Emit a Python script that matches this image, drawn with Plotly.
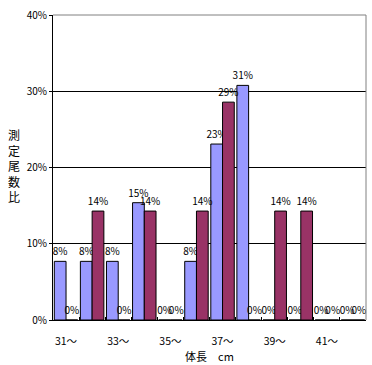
import plotly.graph_objects as go

categories = ["31～", "32～", "33～", "34～", "35～", "36～", "37～", "38～", "39～", "40～", "41～", "42～"]
series_a = [1/13, 1/13, 1/13, 2/13, 0, 1/13, 3/13, 4/13, 0, 0, 0, 0]
series_b = [0, 1/7, 0, 1/7, 0, 1/7, 2/7, 0, 1/7, 1/7, 0, 0]
y_ticks = [0, 0.1, 0.2, 0.3, 0.4]
y_title = "測定尾数比"
x_title = "体長\u3000cm"

FONT = "Noto Sans CJK JP"

fig = go.Figure()
for vals, color, name in [(series_a, "#9999FF", "A"), (series_b, "#993366", "B")]:
    fig.add_trace(go.Bar(
        x=categories, y=vals, name=name,
        marker=dict(color=color, line=dict(color="black", width=1)),
        texttemplate="%{y:.0%}", textposition="outside",
        constraintext="none", cliponaxis=False,
        textfont=dict(family=FONT, size=10, color="black"),
    ))

fig.update_layout(
    width=372, height=365,
    margin=dict(l=53, r=6, t=15, b=45),
    paper_bgcolor="white", plot_bgcolor="white",
    barmode="group", bargap=0.1, bargroupgap=0,
    showlegend=False,
    font=dict(family=FONT, size=10, color="black"),
    xaxis=dict(
        type="category",
        tickmode="array", tickvals=categories,
        ticktext=[c if i % 2 == 0 else "" for i, c in enumerate(categories)],
        tickangle=0, ticklabelstandoff=11,
        tickson="boundaries", ticks="inside", ticklen=3, tickcolor="black",
        showline=True, linecolor="black", linewidth=1,
        showgrid=False,
        title=dict(text=x_title, font=dict(family=FONT, size=11), standoff=0),
        tickfont=dict(family=FONT, size=10.5),
    ),
    yaxis=dict(
        range=[0, 0.4], tickmode="array", tickvals=y_ticks, tickformat=".0%",
        ticks="outside", ticklen=3, tickcolor="black",
        showline=True, linecolor="black", linewidth=1,
        showgrid=True, gridcolor="black", gridwidth=1,
        zeroline=False,
        tickfont=dict(family=FONT, size=10),
    ),
    shapes=[
        dict(type="line", xref="paper", yref="paper", x0=0, x1=1, y0=1, y1=1,
             line=dict(color="#808080", width=1), layer="above"),
        dict(type="line", xref="paper", yref="paper", x0=1, x1=1, y0=0, y1=1,
             line=dict(color="#808080", width=1), layer="above"),
    ],
    annotations=[
        dict(text="<br>".join(list(y_title)), xref="paper", yref="paper",
             x=-0.125, y=0.505, xanchor="center", yanchor="middle",
             showarrow=False, font=dict(family=FONT, size=12), align="center"),
    ],
)

fig.write_html("out.html")
